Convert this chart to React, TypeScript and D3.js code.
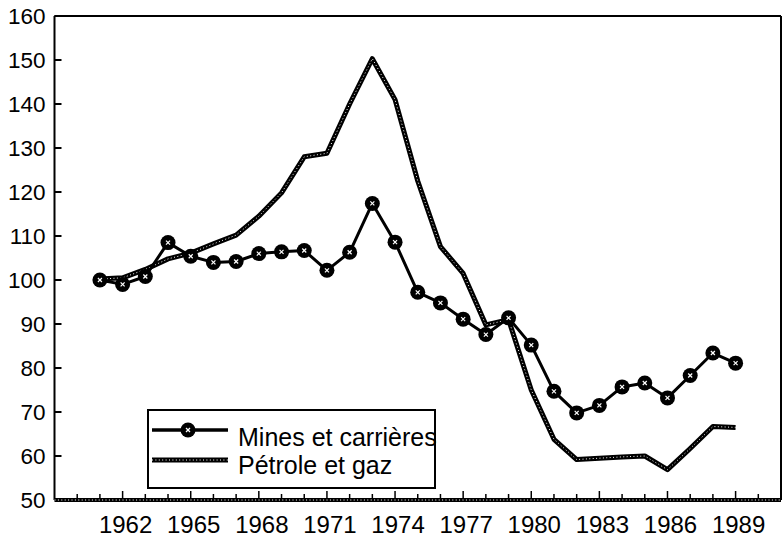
import React from "react";
import * as d3 from "d3";

const years: number[] = d3.range(1961, 1990);
const minesValues: number[] = [
  100, 99, 100.8, 108.5, 105.4, 104, 104.2, 106, 106.4, 106.7, 102.2, 106.3,
  117.4, 108.6, 97.2, 94.8, 91.1, 87.6, 91.4, 85.2, 74.7, 69.8, 71.5, 75.7,
  76.6, 73.2, 78.3, 83.4, 81.1,
];
const petroleValues: number[] = [
  100.2, 100.5, 102.4, 104.8, 106.1, 108.2, 110.2, 114.5, 119.8, 128, 128.8,
  140, 150.3, 141, 122.5, 107.6, 101.5, 89.8, 91, 75, 63.8, 59.2, 59.5, 59.8,
  60, 56.9, 61.7, 66.7, 66.5,
];
const yTicks: number[] = d3.range(50, 161, 10);
const xLabelYears: number[] = [1962, 1965, 1968, 1971, 1974, 1977, 1980, 1983, 1986, 1989];
const minorYears: number[] = d3.range(1960, 1991);
const seriesNames: string[] = ["Mines et carrières", "Pétrole et gaz"];

const W = 784;
const H = 537;
const left = 54.5;
const right = 781;
const top = 16;
const bottom = 500;
const FONT = "'Liberation Sans', Arial, Helvetica, sans-serif";

function Marker({ x, y }: { x: number; y: number }) {
  return (
    <g transform={`translate(${x},${y})`}>
      <circle r={7.5} fill="#000" />
      <line x1={-2} y1={-2} x2={2} y2={2} stroke="#fff" strokeWidth={1.2} />
      <line x1={-2} y1={2} x2={2} y2={-2} stroke="#fff" strokeWidth={1.2} />
    </g>
  );
}

function ChainPath({ d, w = 5 }: { d: string; w?: number }) {
  return (
    <g fill="none">
      <path d={d} stroke="#000" strokeWidth={w} strokeLinejoin="round" />
      <path d={d} stroke="#fff" strokeWidth={1} strokeDasharray="1,2.4" />
    </g>
  );
}

export default function App() {
  const x = d3.scaleLinear().domain([1959, 1991]).range([left, right]);
  const y = d3.scaleLinear().domain([50, 160]).range([bottom, top]);

  const line = d3
    .line<number>()
    .x((_, i) => x(years[i]))
    .y((v) => y(v));

  const minesPath = line(minesValues) || "";
  const petrolePath = line(petroleValues) || "";
  const axisPath = `M${left},${bottom}H${right}`;

  return (
    <svg
      width={W}
      height={H}
      style={{ position: "absolute", left: 0, top: 0, background: "#fff" }}
      fontFamily={FONT}
    >
      <rect x={0} y={0} width={W} height={H} fill="#fff" />
      {/* frame */}
      <line x1={left} y1={top} x2={right} y2={top} stroke="#000" strokeWidth={2} />
      <line x1={right} y1={top} x2={right} y2={bottom} stroke="#000" strokeWidth={2} />
      <line x1={left} y1={top} x2={left} y2={bottom} stroke="#000" strokeWidth={2} />

      {/* y ticks */}
      {yTicks.map((t) => (
        <g key={t}>
          <line x1={left} x2={left + 7} y1={y(t)} y2={y(t)} stroke="#000" strokeWidth={2} />
          <text
            x={left - 9}
            y={y(t)}
            dy="0.36em"
            textAnchor="end"
            fontSize={22.5}
            fill="#000"
          >
            {t}
          </text>
        </g>
      ))}

      {/* x ticks */}
      {minorYears.map((yr) => (
        <line
          key={yr}
          x1={x(yr)}
          x2={x(yr)}
          y1={bottom}
          y2={bottom - (xLabelYears.includes(yr) ? 9 : 6)}
          stroke="#000"
          strokeWidth={1.5}
        />
      ))}
      {xLabelYears.map((yr) => (
        <text key={yr} x={x(yr) + 3} y={533} textAnchor="middle" fontSize={24} fill="#000">
          {yr}
        </text>
      ))}

      <ChainPath d={axisPath} w={4} />

      {/* series */}
      <ChainPath d={petrolePath} />
      <path d={minesPath} fill="none" stroke="#000" strokeWidth={3} strokeLinejoin="round" />
      {minesValues.map((v, i) => (
        <Marker key={i} x={x(years[i])} y={y(v)} />
      ))}

      {/* legend */}
      <rect x={148} y={410} width={287} height={78} fill="#fff" stroke="#000" strokeWidth={2} />
      <line x1={152} x2={228} y1={430} y2={430} stroke="#000" strokeWidth={3.5} />
      <Marker x={188} y={430} />
      <ChainPath d="M152,460H228" />
      <text x={238} y={446} fontSize={25} fill="#000">
        {seriesNames[0]}
      </text>
      <text x={238} y={474} fontSize={25} fill="#000">
        {seriesNames[1]}
      </text>
    </svg>
  );
}
